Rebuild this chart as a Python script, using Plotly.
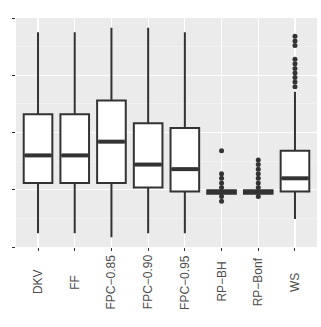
import plotly.graph_objects as go

methods = ["DKV", "FF", "FPC\u22120.85", "FPC\u22120.90", "FPC\u22120.95", "RP\u2212BH", "RP\u2212Bonf", "WS"]
lower = [0.24, 0.24, 0.17, 0.24, 0.24, 0.90, 0.90, 0.49]
q1 = [1.12, 1.12, 1.12, 1.04, 0.97, 0.93, 0.93, 0.97]
median = [1.60, 1.60, 1.84, 1.44, 1.36, 0.96, 0.96, 1.20]
q3 = [2.32, 2.32, 2.56, 2.16, 2.08, 0.99, 0.99, 1.68]
upper = [3.75, 3.75, 3.83, 3.83, 3.75, 1.02, 1.02, 2.71]

# outliers per method (index into methods)
out_idx = [5, 5, 5, 5, 5, 5, 5,
           6, 6, 6, 6, 6, 6, 6, 6,
           7, 7, 7, 7, 7, 7, 7, 7, 7, 7]
out_val = [1.68, 1.28, 1.20, 1.12, 1.04, 0.88, 0.80,
           1.52, 1.44, 1.36, 1.28, 1.20, 1.12, 1.04, 0.88,
           3.68, 3.60, 3.52, 3.28, 3.20, 3.12, 3.04, 2.96, 2.88, 2.80]

xs = list(range(1, len(methods) + 1))
bw = 0.78
dark = "#333333"

fig = go.Figure()
fig.add_trace(go.Box(x=xs, q1=q1, median=median, q3=q3,
                     lowerfence=lower, upperfence=upper,
                     width=bw, whiskerwidth=0, fillcolor="white",
                     line=dict(color=dark, width=2), boxpoints=False,
                     showlegend=False))

# thick median bars like ggplot
mx, my = [], []
for i, m in zip(xs, median):
    mx += [i - bw / 2 + 0.03, i + bw / 2 - 0.03, None]
    my += [m, m, None]
fig.add_trace(go.Scatter(x=mx, y=my, mode="lines",
                         line=dict(color=dark, width=4), showlegend=False))

fig.add_trace(go.Scatter(x=[xs[i] for i in out_idx], y=out_val, mode="markers",
                         marker=dict(color=dark, size=5), showlegend=False))

# vertical labels centred under each tick (ggplot angle=90 style)
for i, name in zip(xs, methods):
    fig.add_annotation(x=i, y=-0.153, xref="x", yref="paper", text=name,
                       textangle=-90, showarrow=False,
                       xanchor="center", yanchor="middle",
                       font=dict(size=12, color="#4D4D4D"))

fig.update_layout(width=321, height=327, hovermode=False,
                  margin=dict(l=16, r=4, t=18, b=80),
                  paper_bgcolor="white", plot_bgcolor="#EBEBEB",
                  font=dict(family="Liberation Sans, Arial", size=12, color="#4D4D4D"))
fig.update_xaxes(range=[0.4, 8.6], tickvals=xs, showticklabels=False,
                 showgrid=True, gridcolor="white", gridwidth=1.2, automargin=False,
                 ticks="outside", ticklen=3, tickcolor=dark, zeroline=False)
fig.update_yaxes(range=[0, 4], tickvals=[0, 1, 2, 3, 4], showticklabels=False,
                 showgrid=True, gridcolor="white", gridwidth=1.2, automargin=False,
                 minor=dict(tickvals=[0.5, 1.5, 2.5, 3.5], showgrid=True,
                            gridcolor="#F5F5F5", gridwidth=0.6),
                 ticks="outside", ticklen=3, tickcolor=dark, zeroline=False)

fig.write_html("out.html", config={"displayModeBar": False, "staticPlot": True},
               post_script="document.body.style.margin='0';")
